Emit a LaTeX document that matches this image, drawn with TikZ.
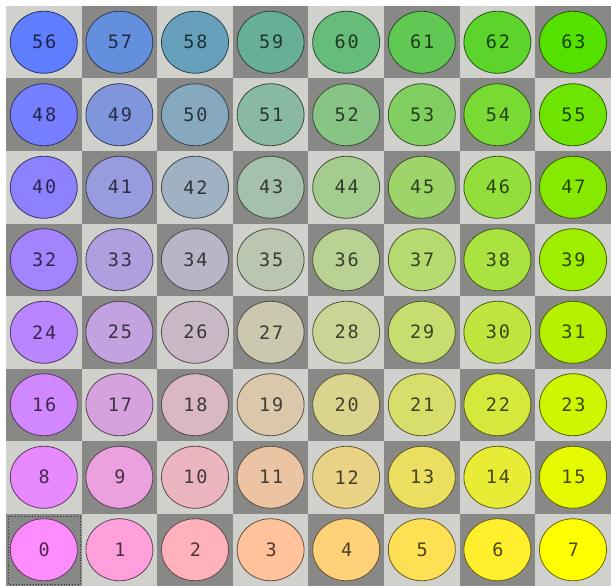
\documentclass[tikz,border=0pt]{standalone}
\usepackage{fontspec}
\newfontfamily\ballfont[LetterSpace=10]{DejaVu Sans Mono}
\usetikzlibrary{shapes.geometric}
\definecolor{cellL}{RGB}{208,208,204}
\definecolor{cellD}{RGB}{136,136,134}
\tikzset{
  ball/.style={ellipse, minimum width=67pt, minimum height=62pt, inner sep=0pt,
    line width=0.8pt, font=\ballfont\fontsize{18.5}{18.5}\selectfont},
  focusbox/.style={draw=black!80, dotted, line width=0.8pt}
}
\begin{document}
\begin{tikzpicture}[x=1pt,y=-1pt]
\useasboundingbox[fill=white] (0,0) rectangle (611,586);
\foreach \r in {0,...,7}{
  \foreach \c in {0,...,7}{
    \pgfmathtruncatemacro\n{(7-\r)*8+\c}
    \pgfmathtruncatemacro\pty{mod(\r+\c,2)}
    \pgfmathsetmacro\xa{6+75.6*\c}
    \pgfmathsetmacro\ya{6+72.5*\r}
    \pgfmathsetmacro\xb{\xa+75.6}
    \pgfmathsetmacro\yb{\ya+72.5}
    \pgfmathsetmacro\cx{\xa+37.8}
    \pgfmathsetmacro\cy{\ya+36.25}
    \ifnum\pty=0
      \fill[cellL] (\xa,\ya) rectangle (\xb,\yb);
    \else
      \fill[cellD] (\xa,\ya) rectangle (\xb,\yb);
    \fi
    \pgfmathsetmacro\t{\c/7}
    \pgfmathsetmacro\s{(7-\r)/7}
    \pgfmathsetmacro\w{0.08*sin(180*\t)+0.2*sin(180*\t)*sin(180*\s)}
    \pgfmathtruncatemacro\R{round(((1-\s)*255+\s*((1-\t)*95+\t*85))*(1-\w)+255*\w)}
    \pgfmathtruncatemacro\G{round(((1-\s)*((1-\t)*140+\t*255)+\s*((1-\t)*125+\t*225))*(1-\w)+255*\w)}
    \pgfmathtruncatemacro\B{round(((1-\t)*255)*(1-\w)+255*\w)}
    \definecolor{ballc}{RGB}{\R,\G,\B}
    \node[ball, draw=ballc!40!black, fill=ballc, text=ballc!30!black] (n\n) at (\cx,\cy) {\hspace{1pt}\n};
  }
}
\draw[focusbox] (8.5,516) rectangle (80,584);
\end{tikzpicture}
\end{document}
